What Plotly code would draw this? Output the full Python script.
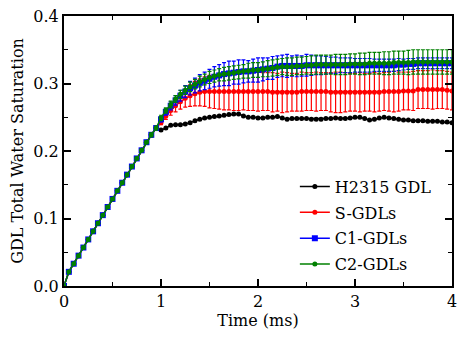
import plotly.graph_objects as go

# time grid, ms (0 to 4 in 0.05 steps)
time_ms = [round(0.05 * i, 2) for i in range(81)]

# shared linear rise, t = 0.00 .. 0.95 (all four curves overlap here)
rise = [0.000, 0.021, 0.033, 0.045, 0.057, 0.069, 0.081, 0.093, 0.105, 0.117,
        0.129, 0.141, 0.153, 0.165, 0.177, 0.189, 0.201, 0.213, 0.224, 0.234]
rise_err = [0.000, 0.002, 0.002, 0.002, 0.002, 0.002, 0.002, 0.002, 0.002, 0.002,
            0.002, 0.002, 0.002, 0.002, 0.002, 0.002, 0.002, 0.002, 0.003, 0.003]

# t = 1.00 .. 4.00
h2315_tail = [0.231, 0.234, 0.238, 0.239, 0.239, 0.240, 0.242, 0.245, 0.247, 0.249,
              0.250, 0.251, 0.252, 0.253, 0.254, 0.255, 0.255, 0.252, 0.250, 0.250,
              0.249, 0.249, 0.250, 0.250, 0.251, 0.249, 0.247, 0.248, 0.248, 0.248,
              0.248, 0.247, 0.247, 0.247, 0.248, 0.248, 0.249, 0.248, 0.248, 0.249,
              0.250, 0.250, 0.248, 0.246, 0.247, 0.249, 0.250, 0.249, 0.248, 0.247,
              0.246, 0.246, 0.245, 0.245, 0.245, 0.244, 0.244, 0.244, 0.243, 0.243, 0.242]

s_tail = [0.242, 0.252, 0.260, 0.267, 0.273, 0.278, 0.282, 0.285, 0.287, 0.288,
          0.288, 0.288, 0.288, 0.288, 0.288, 0.288, 0.288, 0.288, 0.288, 0.288,
          0.288, 0.288, 0.288, 0.287, 0.287, 0.287, 0.287, 0.287, 0.287, 0.288,
          0.288, 0.288, 0.288, 0.288, 0.288, 0.287, 0.287, 0.287, 0.287, 0.287,
          0.287, 0.287, 0.287, 0.287, 0.287, 0.287, 0.288, 0.288, 0.288, 0.288,
          0.289, 0.289, 0.289, 0.291, 0.291, 0.291, 0.291, 0.291, 0.291, 0.290, 0.289]
s_err_tail = [0.003, 0.005, 0.007, 0.009, 0.011, 0.013, 0.016, 0.018, 0.020, 0.022,
              0.024, 0.025, 0.026, 0.027, 0.027, 0.028, 0.028, 0.027, 0.028, 0.028,
              0.029, 0.028, 0.028, 0.029, 0.028, 0.030, 0.029, 0.028, 0.028, 0.029,
              0.028, 0.028, 0.029, 0.028, 0.028, 0.029, 0.030, 0.030, 0.029, 0.028,
              0.028, 0.029, 0.028, 0.028, 0.029, 0.028, 0.028, 0.029, 0.030, 0.029,
              0.028, 0.028, 0.029, 0.028, 0.028, 0.028, 0.029, 0.028, 0.028, 0.028, 0.028]

c1_tail = [0.247, 0.258, 0.267, 0.275, 0.282, 0.288, 0.293, 0.297, 0.301, 0.304,
           0.307, 0.310, 0.312, 0.314, 0.315, 0.316, 0.317, 0.318, 0.318, 0.319,
           0.320, 0.321, 0.322, 0.323, 0.325, 0.326, 0.326, 0.326, 0.326, 0.326,
           0.327, 0.327, 0.327, 0.327, 0.327, 0.327, 0.327, 0.327, 0.327, 0.327,
           0.327, 0.327, 0.327, 0.327, 0.327, 0.327, 0.327, 0.327, 0.327, 0.328,
           0.328, 0.329, 0.329, 0.330, 0.330, 0.330, 0.330, 0.330, 0.330, 0.330, 0.330]
c1_err_tail = [0.004, 0.005, 0.006, 0.007, 0.008, 0.009, 0.010, 0.011, 0.012, 0.013,
               0.014, 0.015, 0.016, 0.017, 0.018, 0.017, 0.018, 0.017, 0.016, 0.017,
               0.018, 0.017, 0.016, 0.017, 0.016, 0.016, 0.017, 0.015, 0.016, 0.015,
               0.016, 0.015, 0.014, 0.014, 0.013, 0.012, 0.012, 0.011, 0.011, 0.011,
               0.010, 0.010, 0.010, 0.010, 0.009, 0.009, 0.009, 0.009, 0.009, 0.009,
               0.008, 0.008, 0.008, 0.008, 0.008, 0.008, 0.008, 0.008, 0.008, 0.008, 0.008]

c2_tail = [0.249, 0.260, 0.269, 0.277, 0.284, 0.290, 0.295, 0.299, 0.303, 0.306,
           0.309, 0.311, 0.313, 0.314, 0.315, 0.316, 0.317, 0.318, 0.319, 0.320,
           0.320, 0.321, 0.322, 0.323, 0.324, 0.325, 0.325, 0.325, 0.326, 0.326,
           0.327, 0.327, 0.328, 0.328, 0.328, 0.328, 0.328, 0.328, 0.328, 0.329,
           0.329, 0.329, 0.329, 0.330, 0.330, 0.330, 0.330, 0.330, 0.331, 0.331,
           0.331, 0.331, 0.332, 0.332, 0.332, 0.332, 0.332, 0.332, 0.332, 0.332, 0.332]
c2_err_tail = [0.004, 0.004, 0.005, 0.005, 0.006, 0.006, 0.007, 0.007, 0.008, 0.008,
               0.009, 0.009, 0.009, 0.010, 0.010, 0.010, 0.010, 0.010, 0.011, 0.011,
               0.011, 0.011, 0.012, 0.012, 0.012, 0.012, 0.013, 0.013, 0.013, 0.013,
               0.013, 0.014, 0.014, 0.014, 0.014, 0.014, 0.015, 0.015, 0.015, 0.015,
               0.015, 0.016, 0.016, 0.016, 0.016, 0.016, 0.017, 0.017, 0.017, 0.017,
               0.017, 0.018, 0.018, 0.018, 0.018, 0.018, 0.018, 0.018, 0.018, 0.018, 0.018]

series = [
    ("H2315 GDL", rise + h2315_tail, None, "black", "circle", 5),
    ("S-GDLs", rise + s_tail, rise_err + s_err_tail, "red", "circle", 5),
    ("C1-GDLs", rise + c1_tail, rise_err + c1_err_tail, "blue", "square", 6),
    ("C2-GDLs", rise + c2_tail, rise_err + c2_err_tail, "green", "circle", 5),
]

FONT = "DejaVu Serif"
text_font = dict(family=FONT, size=16, color="black", weight="normal")

fig = go.Figure()
for name, vals, err, color, symbol, size in series:
    fig.add_trace(go.Scatter(
        x=time_ms,
        y=vals,
        name=name,
        legendgroup=name,
        mode="lines+markers",
        line=dict(color=color, width=1.5),
        marker=dict(color=color, symbol=symbol, size=size),
        error_y=None if err is None else dict(
            type="data", array=err, visible=True,
            color=color, thickness=1.2, width=2,
        ),
    ))

axis_common = dict(
    showgrid=False,
    zeroline=False,
    showline=True,
    linecolor="black",
    linewidth=2,
    mirror="allticks",
    ticks="inside",
    ticklen=7,
    tickwidth=1.5,
    tickcolor="black",
    tickfont=text_font,
    ticklabeloverflow="allow",
    automargin=False,
)

fig.update_xaxes(
    range=[0, 4], dtick=1, tick0=0,
    title=dict(text="Time (ms)", font=text_font, standoff=4),
    minor=dict(dtick=0.5, ticks="inside", ticklen=4, tickwidth=1.2, tickcolor="black"),
    **axis_common,
)
fig.update_yaxes(
    range=[0, 0.4], dtick=0.1, tick0=0, tickformat=".1f",
    title=dict(text="GDL Total Water Saturation", font=text_font, standoff=6),
    minor=dict(dtick=0.05, ticks="inside", ticklen=4, tickwidth=1.2, tickcolor="black"),
    **axis_common,
)

# the page is drawn with an 8px body offset, margins compensate for it
fig.update_layout(
    width=466,
    height=340,
    margin=dict(l=56, r=22, t=8, b=62),
    plot_bgcolor="white",
    paper_bgcolor="white",
    font=text_font,
    legend=dict(
        x=0.595, y=0.431, xanchor="left", yanchor="top",
        bgcolor="rgba(0,0,0,0)",
        font=text_font,
        tracegroupgap=2,
    ),
)

fig.write_html("out.html")
